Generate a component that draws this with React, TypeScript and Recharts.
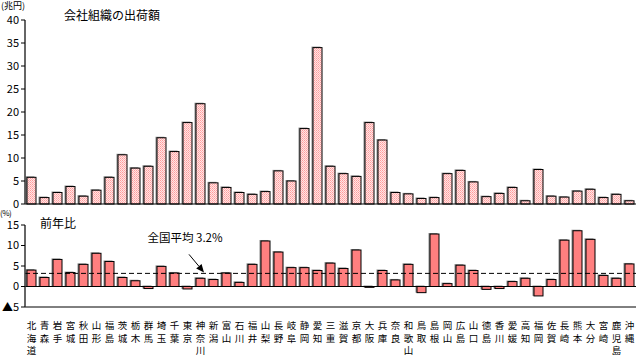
import React from "react";
import { BarChart, Bar, XAxis, YAxis, ReferenceLine } from "recharts";

const prefectures = [
  "北海道", "青森", "岩手", "宮城", "秋田", "山形", "福島", "茨城", "栃木", "群馬",
  "埼玉", "千葉", "東京", "神奈川", "新潟", "富山", "石川", "福井", "山梨", "長野",
  "岐阜", "静岡", "愛知", "三重", "滋賀", "京都", "大阪", "兵庫", "奈良", "和歌山",
  "鳥取", "島根", "岡山", "広島", "山口", "徳島", "香川", "愛媛", "高知", "福岡",
  "佐賀", "長崎", "熊本", "大分", "宮崎", "鹿児島", "沖縄",
];

// 会社組織の出荷額 (兆円)
const shipments = [
  5.8, 1.4, 2.5, 3.8, 1.7, 3.0, 5.8, 10.7, 7.8, 8.2,
  14.4, 11.4, 17.7, 21.8, 4.6, 3.6, 2.5, 2.1, 2.7, 7.2,
  5.0, 16.4, 34.0, 8.2, 6.6, 6.0, 17.7, 13.9, 2.5, 2.2,
  1.2, 1.4, 6.6, 7.3, 4.8, 1.6, 2.3, 3.6, 0.7, 7.5,
  1.7, 1.5, 2.8, 3.2, 1.4, 2.1, 0.7,
];

// 前年比 (%)
const yoy = [
  4.0, 2.2, 6.6, 3.4, 5.4, 8.1, 6.1, 2.2, 1.4, -0.5,
  4.9, 3.3, -0.6, 2.0, 1.7, 3.3, 1.0, 5.4, 11.1, 8.4,
  4.6, 4.6, 3.9, 5.7, 4.4, 8.9, -0.2, 3.9, 1.6, 5.4,
  -1.5, 12.8, 0.7, 5.2, 3.9, -0.7, -0.5, 1.2, 2.0, -2.3,
  1.7, 11.3, 13.6, 11.5, 2.7, 2.0, 5.5,
];

const topTicks = [0, 5, 10, 15, 20, 25, 30, 35, 40];
const bottomTicks = [-5, 0, 5, 10, 15];
const nationalAvg = 3.2;

const data = prefectures.map((name, i) => ({ name, value: shipments[i], yoy: yoy[i] }));

const FONT = '"Noto Sans CJK JP", "Noto Sans", sans-serif';

const ShadowBar = (fill: string) => (props: any) => {
  const { x, y, width, height } = props;
  if (width == null || height == null) return null;
  const y0 = Math.min(y, y + height);
  const h = Math.abs(height);
  return (
    <g>
      <rect x={x - 1.5} y={y0 - 1} width={width} height={h + 1} fill="#8c8c8c" />
      <rect x={x} y={y0} width={width} height={h} fill={fill} stroke="#000" strokeWidth={1} />
    </g>
  );
};

const VerticalTick = (props: any) => {
  const { x, y, payload } = props;
  const chars = String(payload.value).split("");
  return (
    <g>
      {chars.map((c, i) => (
        <text key={i} x={x} y={y + 14 + i * 12.5} textAnchor="middle" fontSize={9.5} fill="#000" fontFamily={FONT}>
          {c}
        </text>
      ))}
    </g>
  );
};

const AvgLabel = (props: any) => {
  const vb = props.viewBox || {};
  const lx = vb.x ?? 25;
  const ly = vb.y ?? 273;
  const tipX = lx + 179;
  const tipY = ly - 1;
  const sx = lx + 164;
  const sy = ly - 19;
  const dx = tipX - sx;
  const dy = tipY - sy;
  const len = Math.sqrt(dx * dx + dy * dy);
  const ux = dx / len;
  const uy = dy / len;
  const nx = -uy;
  const ny = ux;
  const hl = 8;
  const hw = 3.5;
  const bx = tipX - ux * hl;
  const by = tipY - uy * hl;
  return (
    <g>
      <text x={lx + 160} y={ly - 31} textAnchor="middle" fontSize={11.5} fill="#000" fontFamily={FONT}>
        全国平均 3.2%
      </text>
      <line x1={sx} y1={sy} x2={bx} y2={by} stroke="#000" strokeWidth={1} />
      <polygon
        points={`${tipX},${tipY} ${bx + nx * hw},${by + ny * hw} ${bx - nx * hw},${by - ny * hw}`}
        fill="#000"
      />
    </g>
  );
};

const tickStyle = { fontSize: 11, fill: "#000", fontFamily: FONT };

export default function App() {
  return (
    <div style={{ position: "absolute", left: 0, top: 0, width: 640, height: 362, background: "#fff", fontFamily: FONT }}>
      <svg width={0} height={0} style={{ position: "absolute" }}>
        <defs>
          <pattern id="dots" width={2} height={2} patternUnits="userSpaceOnUse">
            <rect width={2} height={2} fill="#ffe4e4" />
            <rect x={0} y={0} width={1} height={1} fill="#ff9c9c" />
            <rect x={1} y={1} width={1} height={1} fill="#ffb4b4" />
          </pattern>
        </defs>
      </svg>
      <div style={{ position: "absolute", left: 0, top: 0 }}>
        <BarChart width={640} height={210} data={data} margin={{ top: 20, right: 4, left: 0, bottom: 0 }}>
          <XAxis dataKey="name" height={6} tick={false} tickLine={false} axisLine={{ stroke: "#000" }} interval={0} />
          <YAxis
            width={25}
            domain={[0, 40]}
            ticks={topTicks}
            interval={0}
            tickSize={4}
            tickMargin={2}
            tick={tickStyle}
            axisLine={{ stroke: "#333", strokeWidth: 1.5 }}
            tickLine={{ stroke: "#000" }}
          />
          <Bar dataKey="value" barSize={9} isAnimationActive={false} shape={ShadowBar("url(#dots)")} />
        </BarChart>
      </div>
      <div style={{ position: "absolute", left: 0, top: 205 }}>
        <BarChart width={640} height={157} data={data} margin={{ top: 20, right: 4, left: 0, bottom: 0 }}>
          <XAxis
            dataKey="name"
            height={55}
            tick={<VerticalTick />}
            tickLine={false}
            axisLine={{ stroke: "#000" }}
            interval={0}
          />
          <YAxis
            width={25}
            domain={[-5, 15]}
            ticks={bottomTicks}
            interval={0}
            tickSize={4}
            tickMargin={2}
            tick={tickStyle}
            tickFormatter={(v: number) => (v < 0 ? `▲${Math.abs(v)}` : `${v}`)}
            axisLine={{ stroke: "#333", strokeWidth: 1.5 }}
            tickLine={{ stroke: "#000" }}
          />
          <ReferenceLine y={0} stroke="#000" strokeWidth={1} />
          <Bar dataKey="yoy" barSize={9} isAnimationActive={false} shape={ShadowBar("#ff7f7f")} />
          <ReferenceLine y={nationalAvg} stroke="#000" strokeDasharray="5 3" strokeWidth={1} label={AvgLabel} />
        </BarChart>
      </div>
      <div style={{ position: "absolute", left: 1, top: 1, fontSize: 9, lineHeight: "9px" }}>(兆円)</div>
      <div style={{ position: "absolute", left: 64, top: 8, fontSize: 12, lineHeight: "14px" }}>会社組織の出荷額</div>
      <div style={{ position: "absolute", left: 0, top: 208, fontSize: 8, lineHeight: "9px", letterSpacing: -0.5 }}>(%)</div>
      <div style={{ position: "absolute", left: 40, top: 216, fontSize: 12, lineHeight: "14px" }}>前年比</div>
    </div>
  );
}
